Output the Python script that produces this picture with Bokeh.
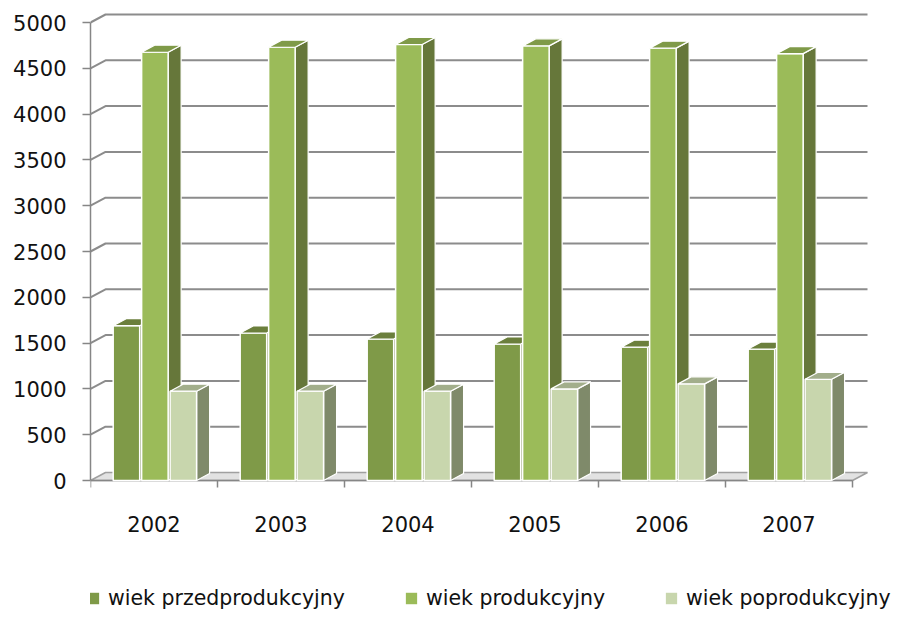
from bokeh.plotting import figure
from bokeh.models import LinearAxis, FixedTicker, Range1d, Legend, LegendItem
from bokeh.core.properties import value
from bokeh.embed import file_html
from bokeh.resources import INLINE

# ---- data ----
years = ["2002", "2003", "2004", "2005", "2006", "2007"]
przedprodukcyjny = [1690, 1610, 1545, 1490, 1455, 1435]
produkcyjny = [4675, 4730, 4760, 4745, 4720, 4660]
poprodukcyjny = [975, 975, 975, 1000, 1055, 1105]
series_names = ["wiek przedprodukcyjny", "wiek produkcyjny", "wiek poprodukcyjny"]
y_ticks = [0, 500, 1000, 1500, 2000, 2500, 3000, 3500, 4000, 4500, 5000]

FONT = "DejaVu Sans"

# ---- layout constants (pixels) ----
W, H = 893, 610
ML, MR, MT, MB = 90, 0, 10, 0
frame_w = W - ML - MR
frame_h = H - MT - MB
PXX = 127.0                 # px per category
PXY = 458.0 / 5000.0        # px per unit value
zero_from_bottom = 130.0
x_end = frame_w / PXX
y_start = -zero_from_bottom / PXY
y_end = y_start + frame_h / PXY
ncat = len(years)

DXB, DYB = 13 / PXX, 7 / PXY      # bar depth
DXW, DYW = 15 / PXX, 8 / PXY      # wall depth
BW = 26.5 / PXX
PITCH = 0.224
CENTER = 0.507

p = figure(width=W, height=H, output_backend="svg", toolbar_location=None,
           x_axis_type=None, y_axis_type=None,
           x_range=Range1d(0, x_end), y_range=Range1d(y_start, y_end),
           min_border_left=ML, min_border_right=MR, min_border_top=MT, min_border_bottom=MB,
           background_fill_color="white", border_fill_color="white", outline_line_color=None)
for g in p.grid:
    g.visible = False

yax = LinearAxis(ticker=FixedTicker(ticks=y_ticks), bounds=(0, 5000),
                 axis_line_color="#868686", axis_line_width=1.5,
                 major_tick_line_color="#868686", major_tick_line_width=1.5,
                 major_tick_in=0, major_tick_out=8, minor_tick_line_color=None,
                 major_label_text_font=FONT, major_label_text_font_size="21px",
                 major_label_text_color="#111111", major_label_standoff=16)
p.add_layout(yax, "left")

# floor
p.patch([0, ncat, ncat + DXW, DXW], [0, 0, DYW, DYW],
        fill_color="#e2e2e2", line_color="#a0a0a0", line_width=1.5)

# back-wall gridlines
gx, gy = [], []
for v in y_ticks[1:]:
    gx.append([0, DXW, ncat + DXW])
    gy.append([v, v + DYW, v + DYW])
p.multi_line(gx, gy, line_color="#8c8c8c", line_width=2)

# x axis line and ticks
p.segment(x0=[0], y0=[0], x1=[ncat], y1=[0], line_color="#868686", line_width=1.5)
tick_len = 7 / PXY
p.segment(x0=list(range(ncat + 1)), y0=[0] * (ncat + 1),
          x1=list(range(ncat + 1)), y1=[-tick_len] * (ncat + 1),
          line_color="#868686", line_width=1.5)

# bars
series = [przedprodukcyjny, produkcyjny, poprodukcyjny]
colors = [("#7F9A48", "#66773A", "#6B7F3C"),
          ("#9BBB59", "#66773A", "#7F9A48"),
          ("#C8D6AD", "#7F8A6A", "#A2AE8B")]
renderers = []
for s, (vals, (cf, cs, ct)) in enumerate(zip(series, colors)):
    xc = [i + CENTER + (s - 1) * PITCH for i in range(ncat)]
    sx, sy, tx, ty = [], [], [], []
    for x, v in zip(xc, vals):
        x0, x1 = x - BW / 2, x + BW / 2
        sx.append([x1, x1, x1 + DXB, x1 + DXB])
        sy.append([0, v, v + DYB, DYB])
        tx.append([x0, x1, x1 + DXB, x0 + DXB])
        ty.append([v, v, v + DYB, v + DYB])
    p.patches(sx, sy, fill_color=cs, line_color="white", line_width=1.2)
    r = p.vbar(x=xc, top=vals, bottom=0, width=BW, fill_color=cf,
               line_color="white", line_width=1.5)
    p.patches(tx, ty, fill_color=ct, line_color="white", line_width=1.2)
    renderers.append(r)

# category labels
p.text(x=[i + 0.5 for i in range(ncat)], y=[-(523 - 480) / PXY] * ncat, text=years,
       text_align="center", text_baseline="middle", text_font=value(FONT),
       text_font_size="21px", text_color="#111111")

legend = Legend(items=[LegendItem(label=n, renderers=[r]) for n, r in zip(series_names, renderers)],
                location=(-5, 0), orientation="horizontal", padding=0, margin=0, spacing=58,
                glyph_width=16, glyph_height=16, label_standoff=7, label_height=20,
                label_text_font=FONT, label_text_font_size="20.5px",
                label_text_color="#111111", background_fill_alpha=0, border_line_color=None)
p.add_layout(legend)

open("out.html", "w").write(file_html(p, INLINE))
